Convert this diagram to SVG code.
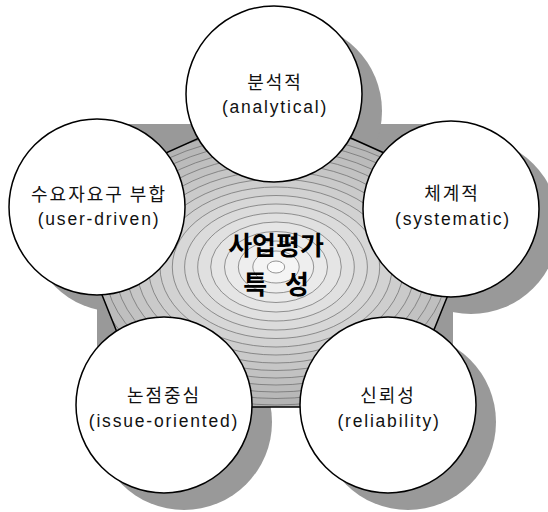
<svg xmlns="http://www.w3.org/2000/svg" width="548" height="512" viewBox="0 0 548 512">
<style>
.sh{fill:#999999;stroke:none}
.node{fill:#ffffff;stroke:#000000;stroke-width:1.5}
.ring{stroke:#6a6a6a;stroke-width:0.7}
.lbl{font-family:"Liberation Sans","Noto Sans CJK KR",sans-serif;font-size:17.5px;fill:#111;text-anchor:middle;letter-spacing:1.8px}
.ko{font-family:"Noto Sans CJK KR","Liberation Sans",sans-serif;font-size:18px;fill:#111;text-anchor:middle;letter-spacing:2px}
.big{font-family:"Noto Sans CJK KR","Liberation Sans",sans-serif;font-size:26px;font-weight:bold;fill:#000;text-anchor:middle}
</style>
<defs>
<clipPath id="pent"><polygon points="275,104 486.5,199 403,407 147,407 63.5,199"/></clipPath>
</defs>
<g id="shadows">
<rect class="sh" x="97" y="124" width="356" height="256"/>
<circle class="sh" cx="294" cy="111" r="88"/>
<circle class="sh" cx="117" cy="224" r="88"/>
<circle class="sh" cx="471" cy="226" r="88"/>
<circle class="sh" cx="184" cy="422" r="88"/>
<circle class="sh" cx="408" cy="422" r="88"/>
</g>
<g id="center">
<g clip-path="url(#pent)">
<rect x="50" y="90" width="450" height="330" fill="#a0a0a0"/>
<g class="ring">
<ellipse cx="276" cy="267" rx="252.3" ry="174" fill="#a2a2a2"/>
<ellipse cx="276" cy="267" rx="243.6" ry="168" fill="#a5a5a5"/>
<ellipse cx="276" cy="267" rx="234.9" ry="162" fill="#a8a8a8"/>
<ellipse cx="276" cy="267" rx="226.2" ry="156" fill="#ababab"/>
<ellipse cx="276" cy="267" rx="217.5" ry="150" fill="#aeaeae"/>
<ellipse cx="276" cy="267" rx="208.8" ry="144" fill="#b1b1b1"/>
<ellipse cx="276" cy="267" rx="200.1" ry="138" fill="#b4b4b4"/>
<ellipse cx="276" cy="267" rx="190.7" ry="131.5" fill="#b8b8b8"/>
<ellipse cx="276" cy="267" rx="181.3" ry="125" fill="#bbbbbb"/>
<ellipse cx="276" cy="267" rx="171.1" ry="118" fill="#bfbfbf"/>
<ellipse cx="276" cy="267" rx="161" ry="111" fill="#c2c2c2"/>
<ellipse cx="276" cy="267" rx="150.1" ry="103.5" fill="#c6c6c6"/>
<ellipse cx="276" cy="267" rx="139.2" ry="96" fill="#cacaca"/>
<ellipse cx="276" cy="267" rx="127.6" ry="88" fill="#cecece"/>
<ellipse cx="276" cy="267" rx="116" ry="80" fill="#d2d2d2"/>
<ellipse cx="276" cy="267" rx="103.7" ry="71.5" fill="#d7d7d7"/>
<ellipse cx="276" cy="267" rx="91.4" ry="63" fill="#dbdbdb"/>
<ellipse cx="276" cy="267" rx="78.3" ry="54" fill="#e0e0e0"/>
<ellipse cx="276" cy="267" rx="65.3" ry="45" fill="#e5e5e5"/>
<ellipse cx="276" cy="267" rx="51.5" ry="35.5" fill="#eaeaea"/>
<ellipse cx="276" cy="267" rx="37.7" ry="26" fill="#eeeeee"/>
<ellipse cx="276" cy="267" rx="23.2" ry="16" fill="#f4f4f4"/>
<ellipse cx="276" cy="267" rx="8.7" ry="6" fill="#fbfbfb"/>
</g>
</g>
<polygon points="275,104 486.5,199 403,407 147,407 63.5,199" fill="none" stroke="#000" stroke-width="1.5"/>
<text class="big" x="276" y="255">사업평가</text>
<text class="big" x="279" y="294" style="letter-spacing:6px">특 성</text>
</g>
<g id="connectors"></g>
<g id="n-analytical">
<circle class="node" cx="274" cy="94" r="88"/>
<text class="ko" x="275" y="89">분석적</text>
<text class="lbl" x="275" y="113">(analytical)</text>
</g>
<g id="n-user-driven">
<circle class="node" cx="97" cy="207" r="88"/>
<text class="ko" x="99" y="201">수요자요구 부합</text>
<text class="lbl" x="99" y="225">(user-driven)</text>
</g>
<g id="n-systematic">
<circle class="node" cx="451" cy="209" r="88"/>
<text class="ko" x="452" y="200">체계적</text>
<text class="lbl" x="453" y="225">(systematic)</text>
</g>
<g id="n-issue-oriented">
<circle class="node" cx="164" cy="405" r="88"/>
<text class="ko" x="164" y="402">논점중심</text>
<text class="lbl" x="164" y="427">(issue-oriented)</text>
</g>
<g id="n-reliability">
<circle class="node" cx="388" cy="405" r="88"/>
<text class="ko" x="388" y="402">신뢰성</text>
<text class="lbl" x="389" y="427">(reliability)</text>
</g>
</svg>
